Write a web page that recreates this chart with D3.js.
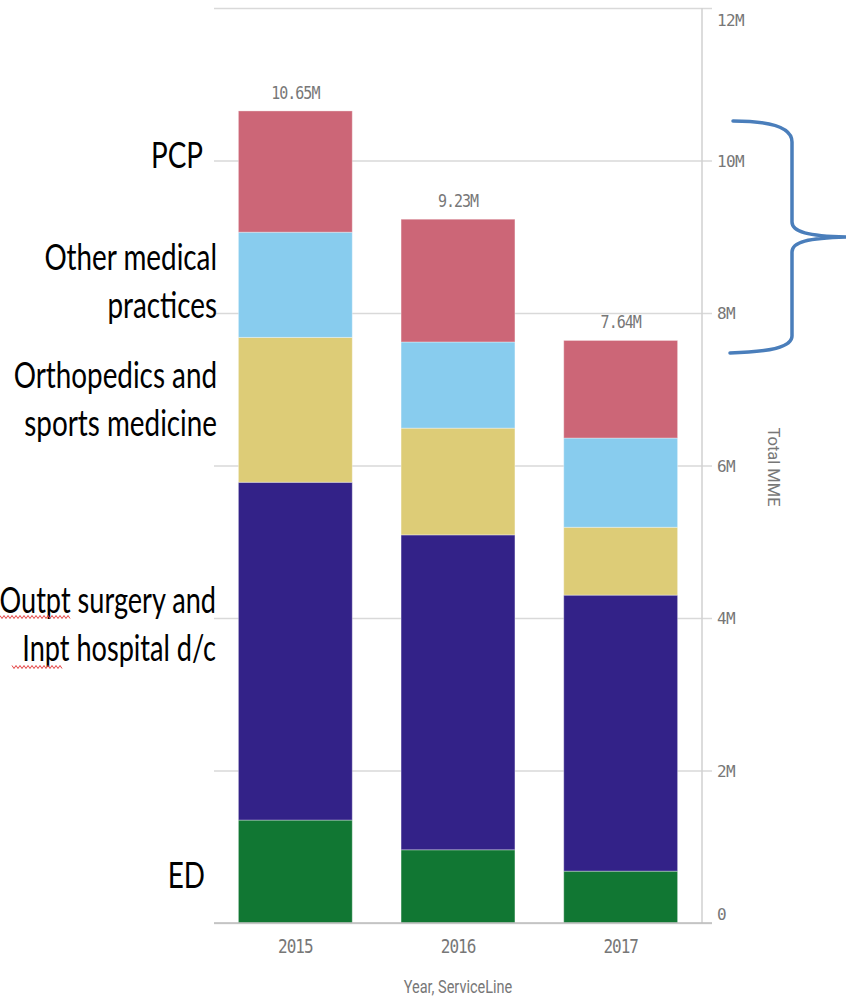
<!DOCTYPE html>
<html>
<head>
<meta charset="utf-8">
<script src="https://cdn.jsdelivr.net/npm/d3@7"></script>
<style>
  body { margin: 0; background: #fff; }
  svg { display: block; }
</style>
</head>
<body>
<script>
// values in millions of MME
var years = ['2015', '2016', '2017'];
var serviceLines = ['ED', 'Outpt', 'Ortho', 'Other', 'PCP'];
var edValues = [1.35, 0.96, 0.68];
var outptValues = [4.43, 4.13, 3.62];
var orthoValues = [1.90, 1.40, 0.89];
var otherValues = [1.38, 1.13, 1.17];
var pcpValues = [1.59, 1.61, 1.28];
var yTicks = [0, 2, 4, 6, 8, 10, 12];
var colors = ['#117733', '#332288', '#ddcc77', '#88ccee', '#cc6677'];

// hand written labels on the left of the slide
var sideLabels = [
    { lines: ['PCP'], y: 168, x: 203, sx: 0.96 },
    { lines: ['Other medical', 'practices'], y: 270, x: 217, sx: 0.96 },
    { lines: ['Orthopedics and', 'sports medicine'], y: 388, x: 217, sx: 0.96 },
    { lines: ['Outpt surgery and', 'Inpt hospital d/c'], y: 613, x: 216, sx: 0.935 },
    { lines: ['ED'], y: 888, x: 205, sx: 0.96 }
];

var width = 846, height = 1001;
var plot = { left: 214, right: 702, top: 8, bottom: 923 };

var rows = years.map(function (year, i) {
    return {
        year: year,
        ED: edValues[i],
        Outpt: outptValues[i],
        Ortho: orthoValues[i],
        Other: otherValues[i],
        PCP: pcpValues[i]
    };
});

var svg = d3.select('body').append('svg')
    .attr('width', width)
    .attr('height', height);

var x = d3.scaleBand()
    .domain(years)
    .range([plot.left, plot.right])
    .paddingInner(0.3)
    .paddingOuter(0.15);

var y = d3.scaleLinear()
    .domain([0, 12])
    .range([plot.bottom, plot.top]);

// gridlines + right axis
var axis = d3.axisRight(y)
    .tickValues(yTicks)
    .tickSize(-(plot.right - plot.left))
    .tickFormat(function (d) { return d === 0 ? '0' : d + 'M'; });

var axisG = svg.append('g')
    .attr('transform', 'translate(' + plot.right + ',0)')
    .call(axis);
axisG.select('.domain').remove();
axisG.selectAll('.tick line')
    .attr('x2', 10)
    .attr('x1', -(plot.right - plot.left))
    .attr('stroke', '#d9d9d9')
    .attr('stroke-width', 1.5);
axisG.selectAll('.tick text')
    .attr('x', 15)
    .attr('fill', '#777')
    .attr('font-family', 'DejaVu Sans Mono')
    .attr('font-size', 16)
    .attr('letter-spacing', -0.6)
    .attr('text-anchor', 'start')
    .attr('dy', function (d) {
        if (d === 12) return '1.1em';
        if (d === 0) return '-0.25em';
        return '0.35em';
    });

svg.append('line')
    .attr('x1', plot.right).attr('x2', plot.right)
    .attr('y1', plot.top).attr('y2', plot.bottom)
    .attr('stroke', '#d0d0d0')
    .attr('stroke-width', 1.5);

// stacked bars
var stack = d3.stack().keys(serviceLines);
var series = stack(rows);

svg.append('g')
    .selectAll('g')
    .data(series)
    .join('g')
    .attr('fill', function (d, i) { return colors[i]; })
    .selectAll('rect')
    .data(function (d) { return d; })
    .join('rect')
    .attr('x', function (d) { return x(d.data.year); })
    .attr('width', x.bandwidth())
    .attr('y', function (d) { return y(d[1]); })
    .attr('height', function (d) { return y(d[0]) - y(d[1]); })
    .attr('stroke', '#ffffff')
    .attr('stroke-opacity', 0.35)
    .attr('stroke-width', 1);

// baseline
svg.append('line')
    .attr('x1', plot.left).attr('x2', plot.right + 10)
    .attr('y1', y(0)).attr('y2', y(0))
    .attr('stroke', '#bdbdbd')
    .attr('stroke-width', 1.5);

// total labels on top of each bar
svg.append('g')
    .selectAll('text')
    .data(rows)
    .join('text')
    .attr('transform', function (d) {
        var top = y(d3.sum(serviceLines, k => d[k]));
        return 'translate(' + (x(d.year) + x.bandwidth() / 2) + ',' + (top - 12) + ') scale(1,1.15)';
    })
    .attr('text-anchor', 'middle')
    .attr('fill', '#777')
    .attr('font-family', 'DejaVu Sans Mono')
    .attr('font-size', 15)
    .attr('letter-spacing', -1)
    .text(function (d) { return d3.sum(serviceLines, k => d[k]).toFixed(2) + 'M'; });

// x axis labels
svg.append('g')
    .selectAll('text')
    .data(years)
    .join('text')
    .attr('transform', function (d) {
        return 'translate(' + (x(d) + x.bandwidth() / 2) + ',' + 953 + ') scale(1,1.2)';
    })
    .attr('text-anchor', 'middle')
    .attr('fill', '#777')
    .attr('font-family', 'DejaVu Sans Mono')
    .attr('font-size', 16)
    .attr('letter-spacing', -1)
    .text(function (d) { return d; });

// axis titles
svg.append('text')
    .attr('transform', 'translate(458,993) scale(1,1.25)')
    .attr('text-anchor', 'middle')
    .attr('fill', '#777')
    .attr('font-family', 'Roboto')
    .attr('font-size', 14.5)
    .text('Year, ServiceLine');

svg.append('text')
    .attr('transform', 'translate(768,467) rotate(90)')
    .attr('text-anchor', 'middle')
    .attr('fill', '#777')
    .attr('font-family', 'Roboto')
    .attr('font-size', 16.5)
    .text('Total MME');

// left side labels
var labelG = svg.append('g');
sideLabels.forEach(function (lab) {
    lab.lines.forEach(function (line, i) {
        labelG.append('text')
            .attr('transform', 'translate(' + lab.x + ',' + (lab.y + i * 48) + ') scale(' + lab.sx + ',1.24)')
            .attr('text-anchor', 'end')
            .attr('fill', '#000')
            .attr('font-family', 'Lato')
            .attr('font-size', 29)
            .text(line);
    });
});

// spell-check squiggles under "Outpt" and "Inpt"
function squiggle(x0, x1, yy) {
    var pts = [];
    for (var px = x0, k = 0; px <= x1; px += 2, k++) {
        pts.push([px, yy + (k % 2 ? 1.5 : -1.5)]);
    }
    return d3.line()(pts);
}
svg.append('path').attr('d', squiggle(0, 70, 617))
    .attr('fill', 'none').attr('stroke', '#e34040').attr('stroke-width', 1);
svg.append('path').attr('d', squiggle(12, 63, 667))
    .attr('fill', 'none').attr('stroke', '#e34040').attr('stroke-width', 1);

// curly brace annotation
svg.append('path')
    .attr('d', 'M733,121 C770,121 792,127 792,142 L792,222 C792,232 808,236 846,237' +
        ' M846,237 C808,238 792,242 792,252 L792,336 C792,347 770,352 730,353')
    .attr('fill', 'none')
    .attr('stroke', '#4a7ebb')
    .attr('stroke-width', 3.5)
    .attr('stroke-linecap', 'round');
</script>
</body>
</html>
